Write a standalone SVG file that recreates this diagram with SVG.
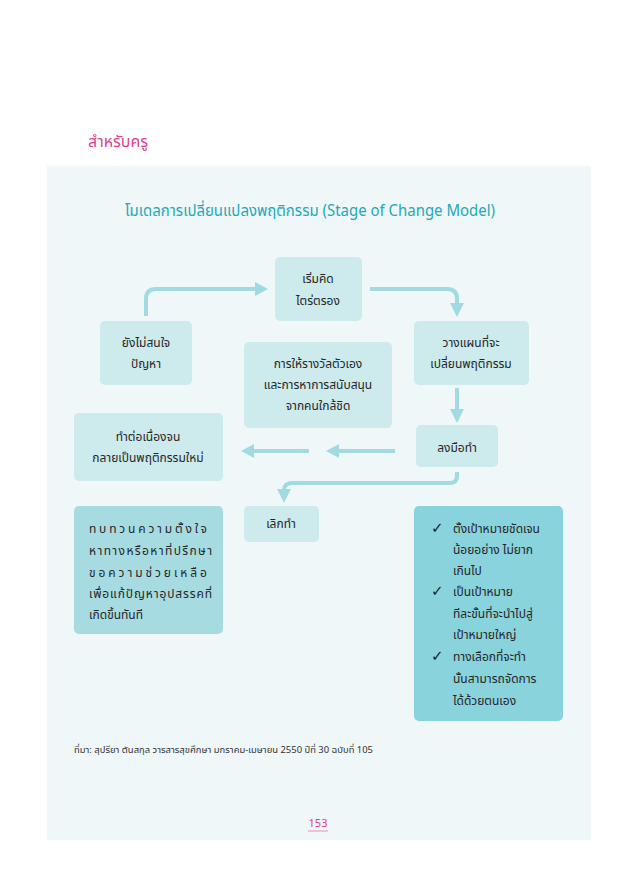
<svg xmlns="http://www.w3.org/2000/svg" width="637" height="884" viewBox="0 0 637 884">
<defs>
<style>
.th{font-family:"Noto Sans Thai","Noto Sans","Liberation Sans",sans-serif;fill:#262626;font-size:12px}
.c{text-anchor:middle}
.ck{font-family:"DejaVu Sans",sans-serif;font-size:15px;fill:#1e1e1e}
.lt{fill:#cdeaed}
.dk1{fill:#a6dbe2}
.dk2{fill:#88d3dc}
.ln{fill:none;stroke:#a2dae1;stroke-width:4;stroke-linecap:butt}
.hd{fill:#a2dae1}
</style>
</defs>
<rect x="0" y="0" width="637" height="884" fill="#ffffff"/>
<rect x="47" y="166" width="544" height="674" fill="#eff7f9"/>
<text x="88" y="147" font-family="Noto Sans Thai,Noto Sans,Liberation Sans,sans-serif" font-size="16" fill="#d9448f">สำหรับครู</text>
<text x="125" y="216" textLength="370" lengthAdjust="spacingAndGlyphs" font-family="Noto Sans Thai,Noto Sans,Liberation Sans,sans-serif" font-size="15.5" fill="#22a9b8">โมเดลการเปลี่ยนแปลงพฤติกรรม (Stage of Change Model)</text>

<g id="connectors">
<path class="ln" d="M146,316 V299 Q146,289 156,289 H256"/>
<polygon class="hd" points="255,282 268,289 255,296"/>
<path class="ln" d="M370,289 H447 Q457,289 457,299 V304"/>
<polygon class="hd" points="450,303 464,303 457,317"/>
<path class="ln" d="M457,388 V410"/>
<polygon class="hd" points="450,409 464,409 457,423"/>
<path class="ln" d="M395,451 H338"/>
<polygon class="hd" points="339,444 339,458 326,451"/>
<path class="ln" d="M309,451 H253"/>
<polygon class="hd" points="254,444 254,458 241,451"/>
<path class="ln" d="M457,472 V476 Q457,483 450,483 H293 Q284,483 284,490"/>
<polygon class="hd" points="277,489 291,489 284,503"/>
</g>

<g id="n-thinking">
<rect class="lt" x="275" y="257" width="87" height="64" rx="5"/>
<text class="th c" x="318" y="283">เริ่มคิด</text>
<text class="th c" x="318" y="305">ไตร่ตรอง</text>
</g>
<g id="n-notinterested">
<rect class="lt" x="100" y="321" width="92" height="64" rx="5"/>
<text class="th c" x="146" y="347">ยังไม่สนใจ</text>
<text class="th c" x="146" y="368">ปัญหา</text>
</g>
<g id="n-plan">
<rect class="lt" x="414" y="321" width="115" height="64" rx="5"/>
<text class="th c" x="471" y="347">วางแผนที่จะ</text>
<text class="th c" x="471" y="368">เปลี่ยนพฤติกรรม</text>
</g>
<g id="n-reward">
<rect class="lt" x="244" y="342" width="148" height="86" rx="5"/>
<text class="th c" x="318" y="368">การให้รางวัลตัวเอง</text>
<text class="th c" x="318" y="389">และการหาการสนับสนุน</text>
<text class="th c" x="318" y="410">จากคนใกล้ชิด</text>
</g>
<g id="n-continue">
<rect class="lt" x="74" y="413" width="149" height="68" rx="5"/>
<text class="th c" x="148" y="441">ทำต่อเนื่องจน</text>
<text class="th c" x="148" y="462">กลายเป็นพฤติกรรมใหม่</text>
</g>
<g id="n-action">
<rect class="lt" x="416" y="425" width="82" height="42" rx="5"/>
<text class="th c" x="457" y="452">ลงมือทำ</text>
</g>
<g id="n-quit">
<rect class="lt" x="244" y="506" width="75" height="36" rx="5"/>
<text class="th c" x="281" y="528">เลิกทำ</text>
</g>
<g id="n-review">
<rect class="dk1" x="74" y="506" width="149" height="128" rx="5"/>
<text class="th" x="89" y="533" textLength="118" lengthAdjust="spacing">ทบทวนความตั้งใจ</text>
<text class="th" x="89" y="555" textLength="123" lengthAdjust="spacing">หาทางหรือหาที่ปรึกษา</text>
<text class="th" x="89" y="577" textLength="118" lengthAdjust="spacing">ขอความช่วยเหลือ</text>
<text class="th" x="89" y="598" textLength="123" lengthAdjust="spacing">เพื่อแก้ปัญหาอุปสรรคที่</text>
<text class="th" x="89" y="619">เกิดขึ้นทันที</text>
</g>
<g id="n-goals">
<rect class="dk2" x="414" y="506" width="149" height="215" rx="5"/>
<text class="ck" x="431" y="533">✓</text>
<text class="th" x="453" y="533">ตั้งเป้าหมายชัดเจน</text>
<text class="th" x="453" y="554">น้อยอย่าง ไม่ยาก</text>
<text class="th" x="453" y="575">เกินไป</text>
<text class="ck" x="431" y="596">✓</text>
<text class="th" x="453" y="596">เป็นเป้าหมาย</text>
<text class="th" x="453" y="618">ทีละขั้นที่จะนำไปสู่</text>
<text class="th" x="453" y="639">เป้าหมายใหญ่</text>
<text class="ck" x="431" y="661">✓</text>
<text class="th" x="453" y="661">ทางเลือกที่จะทำ</text>
<text class="th" x="453" y="683">นั้นสามารถจัดการ</text>
<text class="th" x="453" y="705">ได้ด้วยตนเอง</text>
</g>

<text x="74" y="753" textLength="299" lengthAdjust="spacingAndGlyphs" font-family="Noto Sans Thai,Noto Sans,Liberation Sans,sans-serif" font-size="9.3" fill="#333">ที่มา: สุปรียา ตันสกุล วารสารสุขศึกษา มกราคม-เมษายน 2550 ปีที่ 30 ฉบับที่ 105</text>
<text x="318" y="827" text-anchor="middle" font-family="Noto Sans Thai,Noto Sans,Liberation Sans,sans-serif" font-size="11" fill="#d9448f">153</text>
<line x1="308" y1="831" x2="328" y2="831" stroke="#e98fbf" stroke-width="1"/>
</svg>
